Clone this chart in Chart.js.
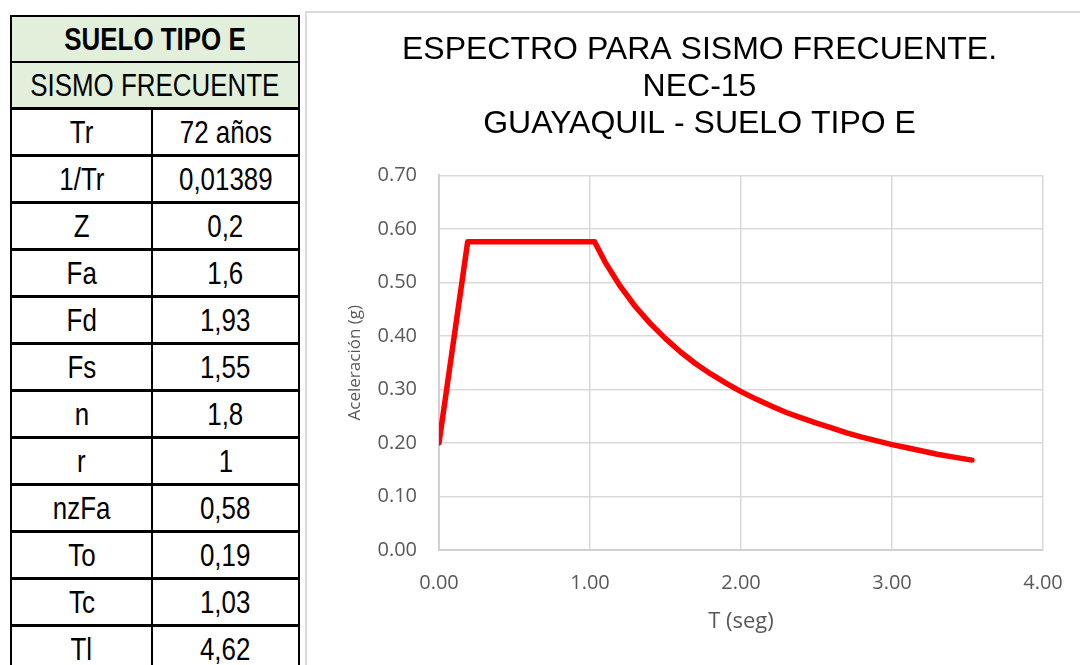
<!DOCTYPE html>
<html>
<head>
<meta charset="utf-8">
<script src="https://cdn.jsdelivr.net/npm/chart.js@4.4.0/dist/chart.umd.min.js"></script>
<style>
body { margin:0; width:1080px; height:665px; overflow:hidden; background:#fff; position:relative; }
#tabla { position:absolute; left:10px; top:15px; width:290px; border-left:2px solid #000; border-right:2px solid #000; border-top:2px solid #000; box-sizing:border-box;
  font-family:"Liberation Sans",Arial,sans-serif; font-size:32px; color:#000; }
.fila { height:47px; box-sizing:border-box; border-bottom:3px solid #000; display:flex; align-items:center; justify-content:center; }
.fila.head { background:#e2efda; }
.fila.head.first { border-bottom:2px solid #000; height:46px; font-weight:bold; }
.c1 { width:141px; height:100%; border-right:2px solid #000; display:flex; align-items:center; justify-content:center; box-sizing:border-box; }
.c2 { flex:1; height:100%; display:flex; align-items:center; justify-content:center; }
.t { display:inline-block; white-space:nowrap; transform:scaleX(0.81); }
#panel { position:absolute; left:305px; top:11px; width:775px; height:654px; border-left:2px solid #d9d9d9; border-top:2px solid #d9d9d9; box-sizing:border-box; }
#grafico { position:absolute; left:307px; top:13px; }
</style>
</head>
<body>
<div id="tabla"></div>
<div id="panel"></div>
<canvas id="grafico" width="785" height="652"></canvas>
<script>
// tabla de parametros
var encabezado1 = "SUELO TIPO E";
var encabezado2 = "SISMO FRECUENTE";
var parametros = ["Tr", "1/Tr", "Z", "Fa", "Fd", "Fs", "n", "r", "nzFa", "To", "Tc", "Tl"];
var valores = ["72 años", "0,01389", "0,2", "1,6", "1,93", "1,55", "1,8", "1", "0,58", "0,19", "1,03", "4,62"];

// espectro
var periodoT = [0, 0.19, 1.03, 1.10, 1.20, 1.30, 1.40, 1.50, 1.60, 1.70, 1.80, 1.90, 2.00, 2.10, 2.20, 2.30, 2.40, 2.50, 2.60, 2.70, 2.80, 2.90, 3.00, 3.10, 3.20, 3.30, 3.40, 3.53];
var aceleracion = [0.20, 0.576, 0.576, 0.538, 0.493, 0.455, 0.423, 0.395, 0.370, 0.348, 0.329, 0.312, 0.296, 0.282, 0.269, 0.257, 0.247, 0.237, 0.228, 0.219, 0.211, 0.204, 0.197, 0.191, 0.185, 0.179, 0.174, 0.168];

var titulo = ["ESPECTRO PARA SISMO FRECUENTE.", "NEC-15", "GUAYAQUIL - SUELO TIPO E"];
var tituloY = "Aceleración (g)";
var tituloX = "T (seg)";

var tabla = document.getElementById("tabla");
var html = '<div class="fila head first"><span class="t">' + encabezado1 + '</span></div>';
html += '<div class="fila head"><span class="t">' + encabezado2 + '</span></div>';
for (let i = 0; i < parametros.length; i++) {
    html += '<div class="fila"><div class="c1"><span class="t">' + parametros[i] + '</span></div><div class="c2"><span class="t">' + valores[i] + '</span></div></div>';
}
tabla.innerHTML = html;

var puntos = periodoT.map((t, i) => ({x: t, y: aceleracion[i]}));

new Chart(document.getElementById("grafico"), {
    type: 'line',
    data: {
        datasets: [{
            data: puntos,
            borderColor: "#ff0000",
            borderWidth: 5.5,
            pointRadius: 0,
            tension: 0,
            fill: false,
            borderJoinStyle: 'round',
            borderCapStyle: 'round'
        }]
    },
    options: {
        responsive: false,
        animation: false,
        layout: { padding: 0 },
        plugins: {
            legend: { display: false },
            tooltip: { enabled: false },
            title: {
                display: true,
                text: titulo,
                color: '#000',
                font: { family: '"Liberation Sans", Arial, sans-serif', size: 32, weight: 'normal', lineHeight: 1.15 },
                padding: { top: 19, bottom: 33 }
            }
        },
        scales: {
            x: {
                type: 'linear',
                min: 0, max: 4,
                ticks: { stepSize: 1, padding: 21, color: '#595959', font: { family: '"Open Sans"', size: 20 },
                    callback: v => v.toFixed(2) },
                grid: { color: '#d9d9d9', lineWidth: 1.5, drawTicks: false },
                border: { color: '#d0d0d0', width: 2 },
                title: { display: true, text: tituloX, color: '#595959', font: { family: '"Open Sans"', size: 22 }, padding: { top: 0, bottom: 30 } },
                afterFit: s => { s.height = 115; }
            },
            y: {
                min: 0, max: 0.7,
                ticks: { stepSize: 0.1, padding: 22, color: '#595959', font: { family: '"Open Sans"', size: 20 },
                    callback: v => v.toFixed(2) },
                grid: { color: '#d9d9d9', lineWidth: 1.5, drawTicks: false },
                border: { color: '#d0d0d0', width: 2 },
                title: { display: true, text: tituloY, color: '#595959', font: { family: '"Open Sans"', size: 17 }, padding: { top: 38, bottom: 0 } },
                afterFit: s => { s.width = 132; }
            },
            // eje vacio a la derecha para dejar el margen y centrar el titulo
            margen: {
                type: 'linear',
                position: 'right',
                display: true,
                ticks: { display: false },
                grid: { display: false, drawTicks: false },
                border: { display: false },
                afterFit: s => { s.width = 49; }
            }
        }
    }
});
</script>
</body>
</html>
